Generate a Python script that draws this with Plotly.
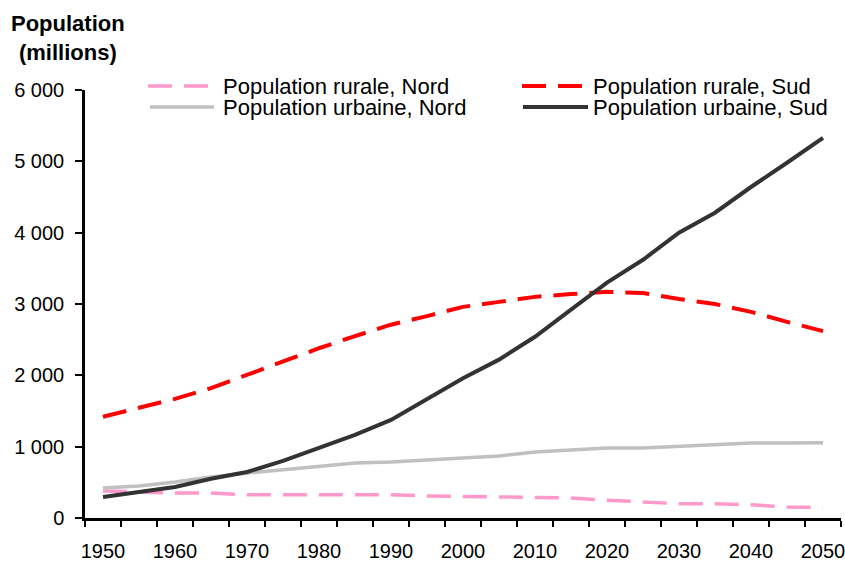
import plotly.graph_objects as go

years = [1950, 1955, 1960, 1965, 1970, 1975, 1980, 1985, 1990, 1995, 2000,
         2005, 2010, 2015, 2020, 2025, 2030, 2035, 2040, 2045, 2050]
rural_nord = [380, 365, 350, 350, 325, 325, 325, 325, 325, 310, 300,
              300, 280, 280, 250, 230, 200, 200, 185, 155, 150]
rural_sud = [1420, 1540, 1670, 1820, 2010, 2200, 2380, 2550, 2710, 2830, 2960,
             3030, 3100, 3140, 3170, 3155, 3070, 3000, 2890, 2750, 2620]
urbaine_nord = [420, 450, 505, 575, 630, 675, 715, 770, 785, 810, 840,
                870, 925, 950, 980, 980, 1000, 1020, 1050, 1050, 1055]
urbaine_sud = [295, 365, 435, 550, 645, 800, 980, 1165, 1375, 1670, 1960,
               2220, 2540, 2920, 3300, 3620, 4000, 4280, 4640, 4980, 5330]

x_labels = [1950, 1960, 1970, 1980, 1990, 2000, 2010, 2020, 2030, 2040, 2050]
y_ticks = [0, 1000, 2000, 3000, 4000, 5000, 6000]

series = [
    ("Population rurale, Nord", rural_nord, "#FF99CC", "24px,12px", 3.5),
    ("Population rurale, Sud", rural_sud, "#FF0000", "24px,12px", 4),
    ("Population urbaine, Nord", urbaine_nord, "#C0C0C0", "solid", 3.5),
    ("Population urbaine, Sud", urbaine_sud, "#333333", "solid", 4),
]

FONT = "Liberation Sans, Arial, sans-serif"
W, H = 845, 562
# plot area in page pixels: x 85..841, y 90..518
L, R, T, B = 85, W - 841, 90, H - 518
PW, PH = W - L - R, H - T - B


def px(xp):
    return (xp - L) / PW


def py(yp):
    return (H - B - yp) / PH


fig = go.Figure()
for name, vals, color, dash, width in series:
    fig.add_trace(go.Scatter(x=years, y=vals, mode="lines", name=name,
                             line=dict(color=color, dash=dash, width=width)))

# manual legend (two columns), page pixel positions
legend_pos = {
    "Population rurale, Nord": (148, 212, 221, 86),
    "Population urbaine, Nord": (150, 214, 221, 107),
    "Population rurale, Sud": (522, 586, 591, 86),
    "Population urbaine, Sud": (523, 588, 591, 107),
}
shapes = []
annotations = []
for name, vals, color, dash, width in series:
    x0, x1, xt, yr = legend_pos[name]
    shapes.append(dict(type="line", xref="paper", yref="paper",
                       x0=px(x0), x1=px(x1), y0=py(yr), y1=py(yr),
                       line=dict(color=color, dash=dash, width=width)))
    annotations.append(dict(text=name, xref="paper", yref="paper",
                            x=px(xt), y=py(yr), xanchor="left", yanchor="middle",
                            showarrow=False, font=dict(size=22, color="black", family=FONT)))

annotations.append(dict(text="<b>Population</b><br><b>(millions)</b>", xref="paper", yref="paper",
                        x=px(68), y=py(38), xanchor="center", yanchor="middle", align="center",
                        showarrow=False, font=dict(size=22, color="black", family=FONT)))

fig.update_layout(
    width=W, height=H,
    margin=dict(l=L, r=R, t=T, b=B, autoexpand=False),
    paper_bgcolor="white", plot_bgcolor="white",
    showlegend=False,
    separators=", ",
    font=dict(family=FONT, color="black"),
    shapes=shapes,
    annotations=annotations,
)
fig.update_xaxes(
    range=[1947.5, 2052.5],
    tickmode="array", tickvals=x_labels, ticks="",
    tickfont=dict(size=20, family=FONT, color="black"),
    ticklabelstandoff=13,
    ticklabeloverflow="allow",
    showgrid=False, zeroline=False,
    showline=True, linecolor="black", linewidth=2.5,
    minor=dict(tick0=1947.5, dtick=5, ticks="outside", ticklen=6, tickwidth=2,
               tickcolor="black", showgrid=False),
)
fig.update_yaxes(
    range=[0, 6000],
    tickmode="array", tickvals=y_ticks, tickformat=",d",
    ticks="outside", ticklen=7, tickwidth=2, tickcolor="black",
    tickfont=dict(size=20, family=FONT, color="black"),
    ticklabelstandoff=7,
    showgrid=False, zeroline=False,
    showline=True, linecolor="black", linewidth=2.5,
)

fig.write_html(
    "out.html",
    config={"displayModeBar": False},
    post_script="document.body.style.margin='0';document.body.style.padding='0';"
                "document.body.style.overflow='hidden';",
)
